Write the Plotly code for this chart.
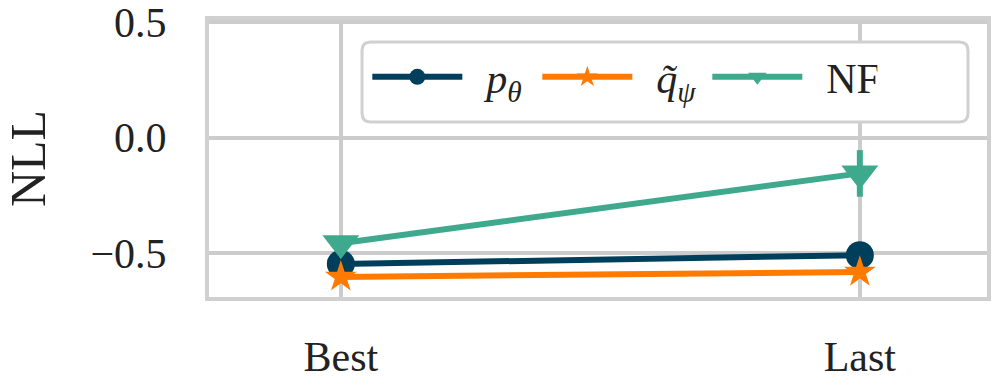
import plotly.graph_objects as go

categories = ["Best", "Last"]
p_theta = [-0.547, -0.509]
p_theta_err = [0.01, 0.01]
q_psi = [-0.603, -0.582]
q_psi_err = [0.01, 0.01]
nf = [-0.457, -0.155]
nf_err = [0.012, 0.101]

PAD = "\u00a0\u2009"
names = [PAD + "<i>p</i><sub><i>θ</i></sub>", PAD + "<i>q̃</i><sub><i>ψ</i></sub>", PAD + "NF"]
colors = ["#003f5c", "#ff7a00", "#3fa98e"]
symbols = ["circle", "star", "triangle-down"]
sizes = [28, 24, 32]
series = [(p_theta, p_theta_err), (q_psi, q_psi_err), (nf, nf_err)]

FONT = "Liberation Serif"
fig = go.Figure()
xs = list(range(len(categories)))
for (vals, errs), name, col, sym, sz in zip(series, names, colors, symbols, sizes):
    fig.add_trace(go.Scatter(
        x=xs, y=vals, name=name, mode="lines+markers",
        line=dict(color=col, width=6),
        marker=dict(symbol=sym, size=sz, color=col, line=dict(width=0)),
        error_y=dict(type="data", array=errs, color=col, thickness=6, width=0),
    ))

# rounded legend frame (paper coordinates)
x0, x1, y0, y1 = 0.1967, 0.9756, 0.632, 0.9206
rx, ry = 0.011, 0.031
path = (f"M{x0+rx},{y0} L{x1-rx},{y0} Q{x1},{y0} {x1},{y0+ry} "
        f"L{x1},{y1-ry} Q{x1},{y1} {x1-rx},{y1} L{x0+rx},{y1} "
        f"Q{x0},{y1} {x0},{y1-ry} L{x0},{y0+ry} Q{x0},{y0} {x0+rx},{y0} Z")
fig.add_shape(type="path", path=path, xref="paper", yref="paper",
              fillcolor="white", line=dict(color="#d0d0d0", width=3), layer="above")

fig.update_layout(
    width=997, height=387,
    margin=dict(l=209, r=10, t=20, b=90),
    paper_bgcolor="white", plot_bgcolor="white",
    font=dict(family=FONT, size=42, color="#222222"),
    showlegend=True,
    legend=dict(
        orientation="h", x=0.2035, y=0.794, xanchor="left", yanchor="middle",
        borderwidth=0, bgcolor="rgba(0,0,0,0)",
        font=dict(family=FONT, size=42), itemwidth=90,
        entrywidth=65, entrywidthmode="pixels",
    ),
    xaxis=dict(
        range=[-0.254, 1.245], tickmode="array", tickvals=xs, ticktext=categories,
        showgrid=True, gridcolor="#cccccc", gridwidth=4,
        showline=True, linecolor="#d0d0d0", linewidth=4, mirror=True,
        ticks="outside", ticklen=20, tickcolor="rgba(0,0,0,0)", zeroline=False,
        automargin=False, ticklabeloverflow="allow",
    ),
    yaxis=dict(
        range=[-0.69, 0.509], tickvals=[-0.5, 0.0, 0.5], ticktext=["−0.5", "0.0", "0.5"],
        showgrid=True, gridcolor="#cccccc", gridwidth=4,
        showline=True, linecolor="#d0d0d0", linewidth=4, mirror=True,
        ticks="outside", ticklen=30, tickcolor="rgba(0,0,0,0)", zeroline=False,
        automargin=False, ticklabeloverflow="allow",
        title=dict(text="NLL", standoff=63, font=dict(size=50)),
    ),
)

fig.write_html("out.html", config={"displayModeBar": False},
               post_script="document.body.style.margin='0';")
